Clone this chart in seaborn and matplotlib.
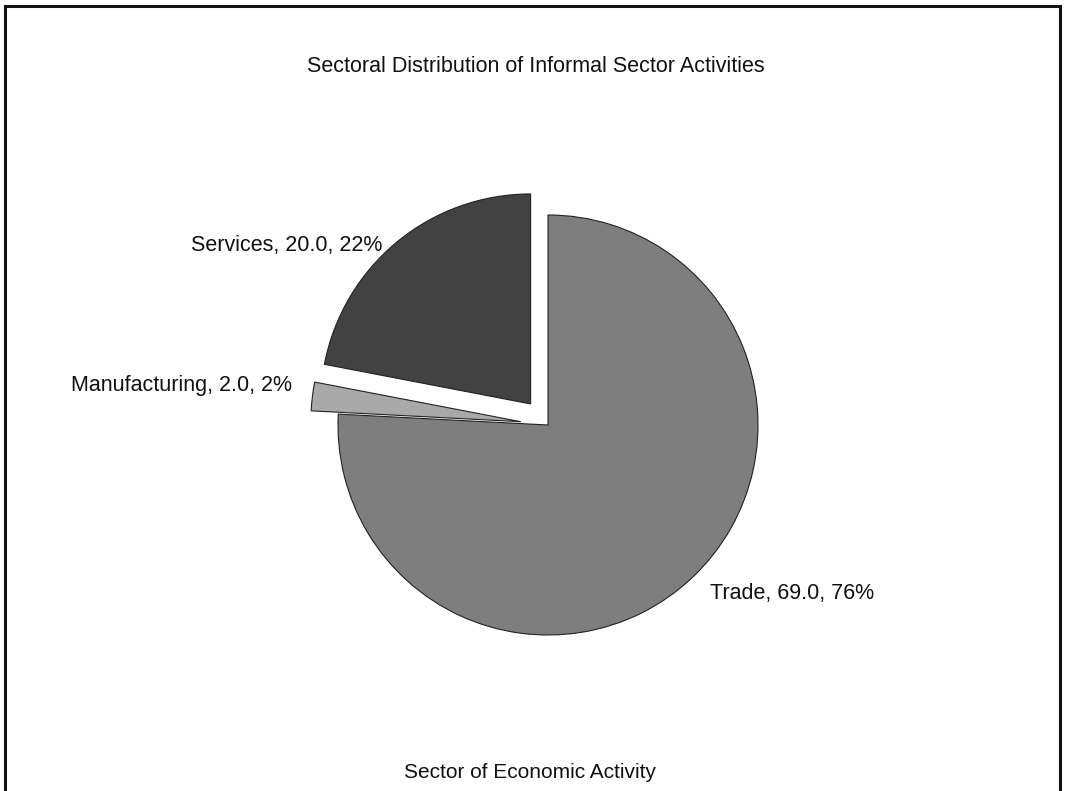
import matplotlib
matplotlib.use('Agg')
import matplotlib.pyplot as plt
import seaborn as sns
from matplotlib.patches import Rectangle

sectors = ['Trade', 'Manufacturing', 'Services']
counts = [69.0, 2.0, 20.0]
percent_labels = ['76%', '2%', '22%']
explode = [0.0, 0.13, 0.13]
colors = ['#7e7e7e', '#a9a9a9', '#424242']

sns.set_theme(style='white')
plt.rcParams['font.family'] = ['Liberation Sans', 'DejaVu Sans']

W, H = 1065, 791
cx, cy, r = 548, 425, 210

fig = plt.figure(figsize=(W / 100, H / 100), dpi=100)
ax = fig.add_axes([0, 0, 1, 1])

wedges, _ = ax.pie(counts, explode=explode, colors=colors, startangle=90,
                   counterclock=False,
                   wedgeprops=dict(edgecolor='#222222', linewidth=0.8))
ax.set_xlim(-cx / r, (W - cx) / r)
ax.set_ylim(-(H - cy) / r, cy / r)
ax.set_aspect('equal', adjustable='datalim')
ax.axis('off')

# data labels: "name, value, percent"
label_pos = {'Trade': (0.771, -0.80, 'left'),
             'Manufacturing': (-1.22, 0.19, 'right'),
             'Services': (-0.79, 0.857, 'right')}
for name, val, pct in zip(sectors, counts, percent_labels):
    x, y, ha = label_pos[name]
    ax.text(x, y, f'{name}, {val:.1f}, {pct}', ha=ha, va='center',
            fontsize=15.5, color='#111111')

fig.text(536 / W, 1 - 66 / H, 'Sectoral Distribution of Informal Sector Activities',
         ha='center', va='center', fontsize=15.5, color='#111111')
fig.text(530 / W, 1 - 772 / H, 'Sector of Economic Activity',
         ha='center', va='center', fontsize=15, color='#111111')

# chart frame
fig.patches.append(Rectangle((5 / W, -0.05), 1055 / W, 1.05 - 6 / H,
                             transform=fig.transFigure, fill=False,
                             edgecolor='#111111', linewidth=2.2))

fig.savefig('out.png', dpi=100)
